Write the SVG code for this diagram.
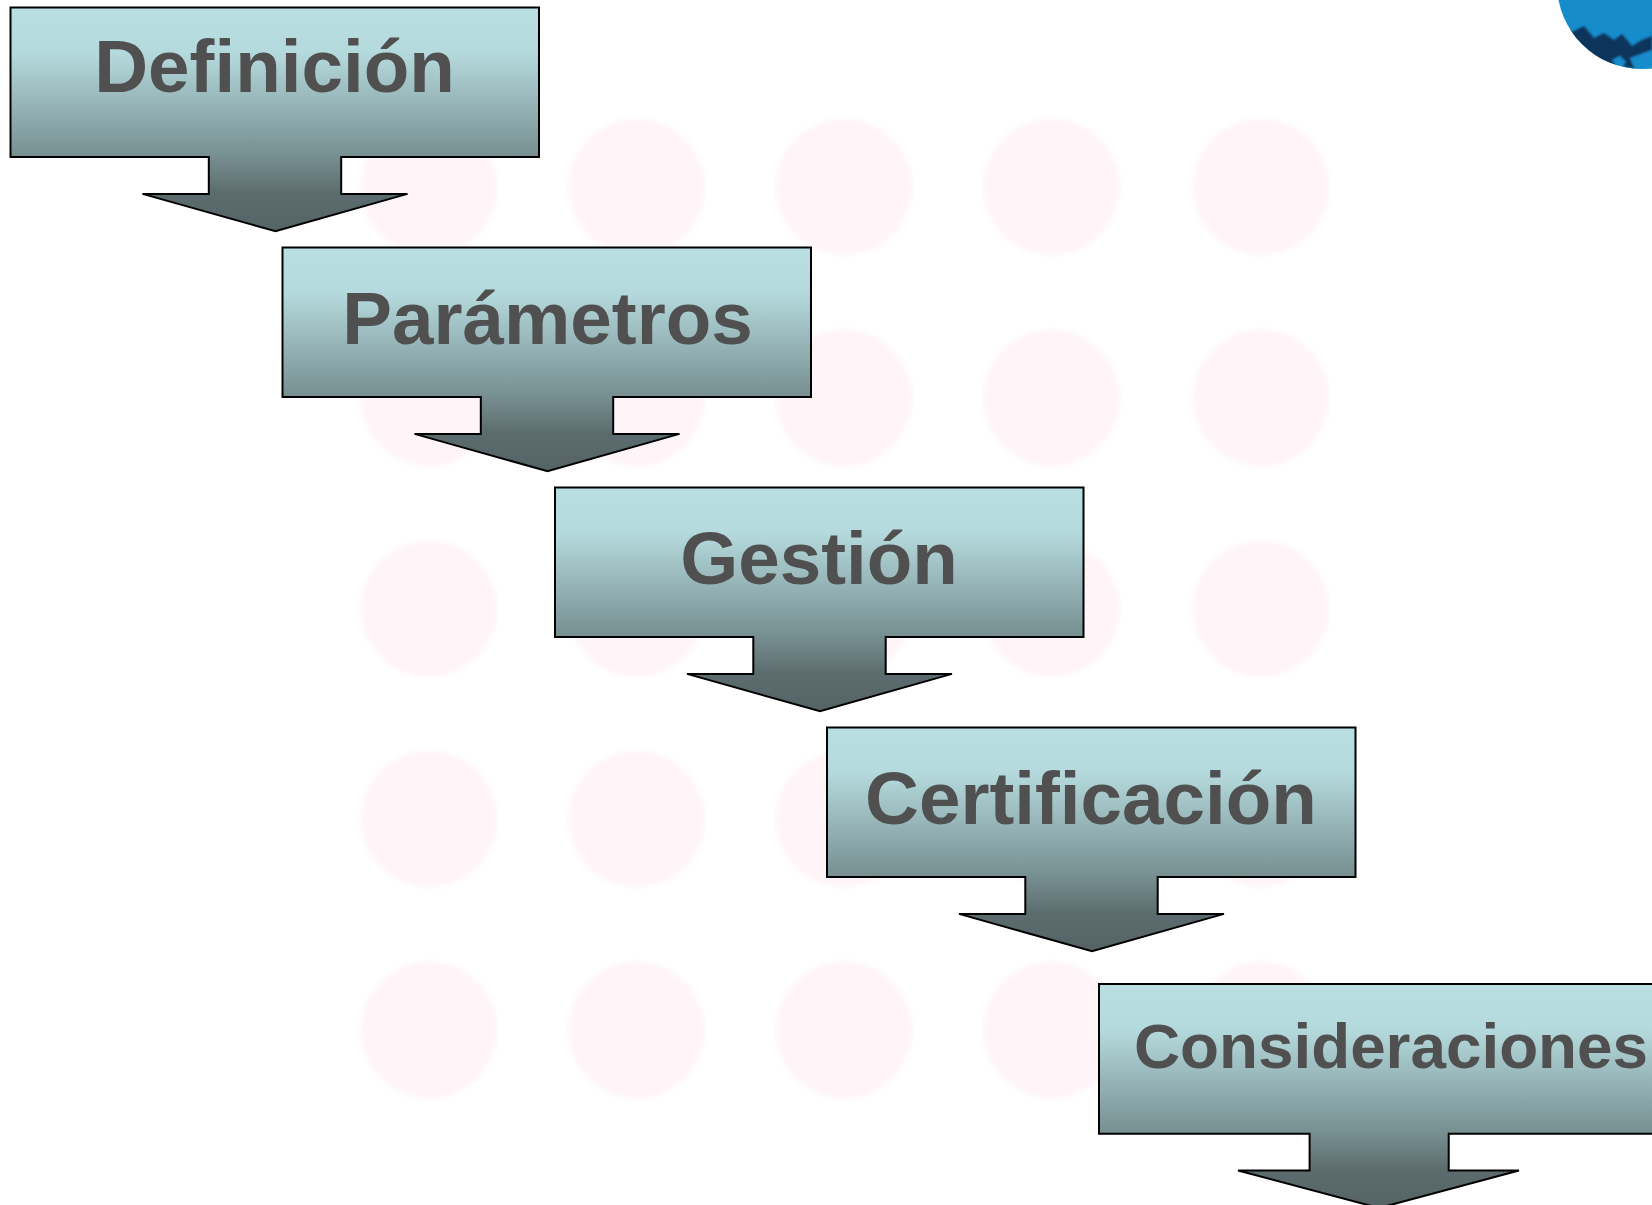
<svg xmlns="http://www.w3.org/2000/svg" width="1652" height="1205" viewBox="0 0 1652 1205">
<style>
.dot{fill:#fff5f8}
.box{fill:url(#g);stroke:#000;stroke-width:2;stroke-linejoin:miter}
text{font-family:"Liberation Sans",Arial,sans-serif;font-weight:700;fill:#505050;text-anchor:middle}
.big{font-size:74.600px}
.small{font-size:63.800px}
</style>
<defs>
<linearGradient id="g" x1="0" y1="0" x2="0" y2="1">
<stop offset="0" stop-color="#b9dfe2"/>
<stop offset=".2" stop-color="#b5dadd"/>
<stop offset=".67" stop-color="#768e90"/>
<stop offset=".83" stop-color="#5c6c6e"/>
<stop offset="1" stop-color="#556365"/>
</linearGradient>
<path id="callout" d="M0 0H528.500V149.600H330.700V186.400H397L265 223.700L132 186.400H198.300V149.600H0Z"/>
<clipPath id="logoClip"><circle cx="1642" cy="-16" r="85"/></clipPath>
<filter id="soft" x="-5%" y="-5%" width="110%" height="110%"><feGaussianBlur stdDeviation="2"/></filter>
<filter id="softer" x="-5%" y="-5%" width="110%" height="110%"><feGaussianBlur stdDeviation="1.200"/></filter>
</defs>
<rect width="1652" height="1205" fill="#fff"/>
<g id="background-dots" filter="url(#soft)">
<circle class="dot" cx="429" cy="187" r="68.500"/><circle class="dot" cx="636.500" cy="187" r="68.500"/><circle class="dot" cx="844" cy="187" r="68.500"/><circle class="dot" cx="1051.500" cy="187" r="68.500"/><circle class="dot" cx="1261" cy="187" r="68.500"/>
<circle class="dot" cx="429" cy="398" r="68.500"/><circle class="dot" cx="636.500" cy="398" r="68.500"/><circle class="dot" cx="844" cy="398" r="68.500"/><circle class="dot" cx="1051.500" cy="398" r="68.500"/><circle class="dot" cx="1261" cy="398" r="68.500"/>
<circle class="dot" cx="429" cy="609" r="68.500"/><circle class="dot" cx="636.500" cy="609" r="68.500"/><circle class="dot" cx="844" cy="609" r="68.500"/><circle class="dot" cx="1051.500" cy="609" r="68.500"/><circle class="dot" cx="1261" cy="609" r="68.500"/>
<circle class="dot" cx="429" cy="819" r="68.500"/><circle class="dot" cx="636.500" cy="819" r="68.500"/><circle class="dot" cx="844" cy="819" r="68.500"/><circle class="dot" cx="1051.500" cy="819" r="68.500"/><circle class="dot" cx="1261" cy="819" r="68.500"/>
<circle class="dot" cx="429" cy="1030" r="68.500"/><circle class="dot" cx="636.500" cy="1030" r="68.500"/><circle class="dot" cx="844" cy="1030" r="68.500"/><circle class="dot" cx="1051.500" cy="1030" r="68.500"/><circle class="dot" cx="1261" cy="1030" r="68.500"/>
</g>
<g id="logo" clip-path="url(#logoClip)">
<rect x="1550" y="0" width="102" height="80" fill="#178ccb"/>
<g filter="url(#softer)">
<path d="M1560 26L1572 32L1584 26L1594 38L1604 33L1614 40L1622 34L1632 46L1642 40L1652 36V80H1560Z" fill="#11365b"/>
<path d="M1612 60L1620 56L1626 62L1620 70ZM1630 58L1652 50V72L1636 72Z" fill="#178ccb"/>
<path d="M1604 64L1640 70L1652 68V76H1620Z" fill="#3cb0d8"/>
</g>
</g>
<g id="node-definicion">
<use href="#callout" class="box" transform="translate(10.500 7.500)"/>
<text class="big" x="274.500" y="91.800">Definición</text>
</g>
<g id="node-parametros">
<use href="#callout" class="box" transform="translate(282.500 247.500)"/>
<text class="big" x="547.500" y="343.800">Parámetros</text>
</g>
<g id="node-gestion">
<use href="#callout" class="box" transform="translate(555 487.500)"/>
<text class="big" x="819" y="583.800">Gestión</text>
</g>
<g id="node-certificacion">
<use href="#callout" class="box" transform="translate(827 727.500)"/>
<text class="big" x="1091" y="823.800">Certificación</text>
</g>
<g id="node-consideraciones">
<path class="box" d="M1099 984H1660V1133.700H1448.700V1170.500H1519L1379 1208L1238 1170.500H1309.600V1133.700H1099Z"/>
<text class="small" x="1391" y="1067.500">Consideraciones</text>
</g>
</svg>
